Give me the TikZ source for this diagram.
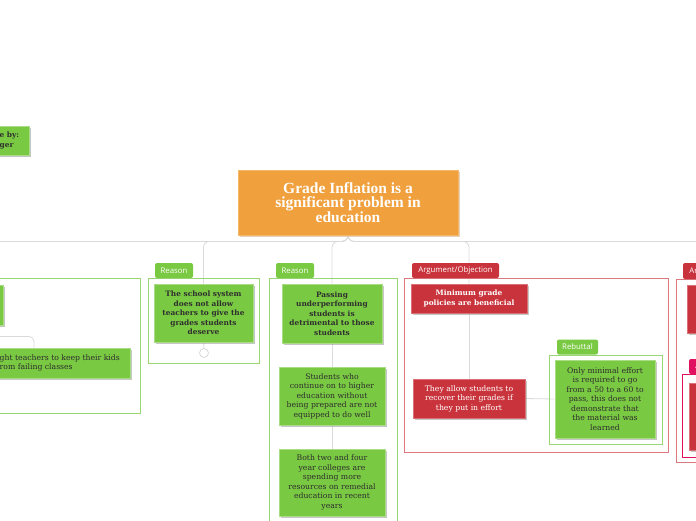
\documentclass[tikz,border=0pt]{standalone}
\usepackage{fontspec}
\setmainfont{DejaVu Serif}
\newfontfamily\titlefont{Liberation Serif}
\newfontfamily\tabfont{Open Sans}
\usetikzlibrary{shadows,backgrounds}
\definecolor{gfill}{HTML}{7AC943}
\definecolor{gline}{HTML}{98D675}
\definecolor{gtext}{HTML}{2E2E2E}
\definecolor{rfill}{HTML}{C9343C}
\definecolor{rline}{HTML}{DA7A7F}
\definecolor{mline}{HTML}{E0115F}
\definecolor{ofill}{HTML}{F0A03C}
\definecolor{lgray}{HTML}{DADADA}
\begin{document}
\begin{tikzpicture}[x=1pt,y=-1pt,
  box/.style={draw, line width=1pt, inner sep=0pt},
  gbox/.style={box, draw=gline},
  rbox/.style={box, draw=rline},
  mbox/.style={box, draw=mline},
  tab/.style={rounded corners=2pt, inner sep=0pt, text=white,
    font=\tabfont\fontsize{7.8}{9}\selectfont},
  gtab/.style={tab, fill=gfill},
  rtab/.style={tab, fill=rfill},
  mtab/.style={tab, fill=mline},
  card/.style={inner sep=0pt, align=center, line width=0.8pt,
    drop shadow={shadow xshift=1.6pt, shadow yshift=-1.6pt, fill=black!50, opacity=.45}},
  gcard/.style={card, fill=gfill, draw=gfill!65!white, text=gtext},
  rcard/.style={card, fill=rfill, draw=rfill!70!white, text=white},
  body/.style={font=\fontsize{7.7}{9.5}\selectfont},
  head/.style={font=\bfseries\fontsize{7.4}{9.5}\selectfont},
  conn/.style={draw=lgray, line width=0.8pt, rounded corners=6pt},
  sz/.style 2 args={minimum width=#1pt, minimum height=#2pt}]
\useasboundingbox (0,0) rectangle (696,520);
\clip (0,0) rectangle (696,520);

% title
\node[card, fill=ofill, draw=ofill!75!white, text=white, sz={220}{65},
  drop shadow={shadow xshift=2pt, shadow yshift=-2pt, fill=ofill!40!white, opacity=.6},
  font=\titlefont\bfseries\fontsize{15.5}{14.5}\selectfont] (title) at (348,202.5)
  {Grade Inflation is a\\significant problem in\\education};

% top-left partial node
\node[gcard, sz={89}{29}] (madeby) at (-15.5,140.5) {};
\node[anchor=west, inner sep=0pt, align=left, text=gtext, head] (madebytext) at (-0.5,140.5) {e by:\\ger};

% left cluster
\node[gbox, sz={240}{135}] (leftbox) at (20,345.5) {};
\node[gcard, sz={83}{40}] (leftA) at (-38.5,305) {};
\node[gcard, sz={230}{30}] (leftB) at (15,363) {};
\node[anchor=west, inner sep=0pt, align=left, text=gtext, body] (leftBtext) at (-0.5,363)
  {ght teachers to keep their kids\\rom failing classes};
\coordinate (leftBin) at (34,348);

% Reason 1
\node[gbox, sz={111}{85}] (r1box) at (203.5,320.5) {};
\node[gtab, sz={38}{15}] (r1tab) at (174,270.5) {Reason};
\node[gcard, sz={99}{58}, head] (r1card) at (203.5,313)
  {The school system\\does not allow\\teachers to give the\\grades students\\deserve};
\node[circle, draw=lgray, line width=0.8pt, fill=white, minimum size=9pt, inner sep=0pt] (r1dot) at (204,353) {};

% Reason 2
\node[gbox, sz={128}{260}] (r2box) at (333,408) {};
\node[gtab, sz={38}{15}] (r2tab) at (295,270.5) {Reason};
\node[gcard, sz={100}{59}, head] (r2n1) at (332,313.5)
  {Passing\\underperforming\\students is\\detrimental to those\\students};
\node[gcard, sz={106}{58}, body] (r2n2) at (332,396)
  {Students who\\continue on to higher\\education without\\being prepared are not\\equipped to do well};
\node[gcard, sz={106}{67}, body] (r2n3) at (332,482.5)
  {Both two and four\\year colleges are\\spending more\\resources on remedial\\education in recent\\years};

% Argument/Objection
\node[rbox, sz={264}{174}] (argbox) at (536,365) {};
\node[rtab, sz={87}{15}] (argtab) at (455.5,270.5) {Argument/Objection};
\node[rcard, sz={116}{29}, font=\bfseries\fontsize{7.4}{10}\selectfont] (mincard) at (469,298.5)
  {Minimum grade\\policies are beneficial};
\node[rcard, sz={112}{39}, body] (allowcard) at (469,398.5)
  {They allow students to\\recover their grades if\\they put in effort};

% Rebuttal
\node[gbox, sz={113}{89}] (rebbox) at (605.5,399.5) {};
\node[gtab, sz={41}{15}] (rebtab) at (577.5,347) {Rebuttal};
\node[gcard, sz={100}{78}, body] (rebcard) at (605,399)
  {Only minimal effort\\is required to go\\from a 50 to a 60 to\\pass, this does not\\demonstrate that\\the material was\\learned};

% right partial cluster
\node[rbox, sz={264}{183}] (rbox2) at (808,370.5) {};
\node[rtab, sz={87}{16}] (rtab2) at (726.5,271) {Argument/Objection};
\node[rcard, sz={116}{48}] (rcard1) at (745,309) {};
\node[mbox, sz={264}{83}] (mbox2) at (814,415.5) {};
\node[mtab, sz={87}{15}] (mtab2) at (732.5,366.5) {Argument/Objection};
\node[rcard, sz={112}{67}] (rcard2) at (745,416.5) {};

% connectors
\begin{pgfonlayer}{background}
\draw[conn] (title.south) -- ++(0,6) -| (leftA.north);
\draw[conn] (title.south) -- ++(0,6) -| (r1card.north);
\draw[conn] (title.south) -- ++(0,6) -| (r2n1.north);
\draw[conn] (title.south) -- ++(0,6) -| (mincard.north);
\draw[conn] (title.south) -- ++(0,6) -| (rcard1.north);
\draw[conn] (r1card.south) -- (r1dot.north);
\draw[conn] (r2n1.south) -- (r2n2.north);
\draw[conn] (r2n2.south) -- (r2n3.north);
\draw[conn] (mincard.south) -- (allowcard.north);
\draw[conn] (allowcard.east) -- (rebcard.west);
\draw[conn, rounded corners=5pt] (leftA.south) -- ++(0,11) -| (leftBin);
\draw[conn] (rcard1.south) -- (rcard2.north);
\end{pgfonlayer}
\end{tikzpicture}
\end{document}
